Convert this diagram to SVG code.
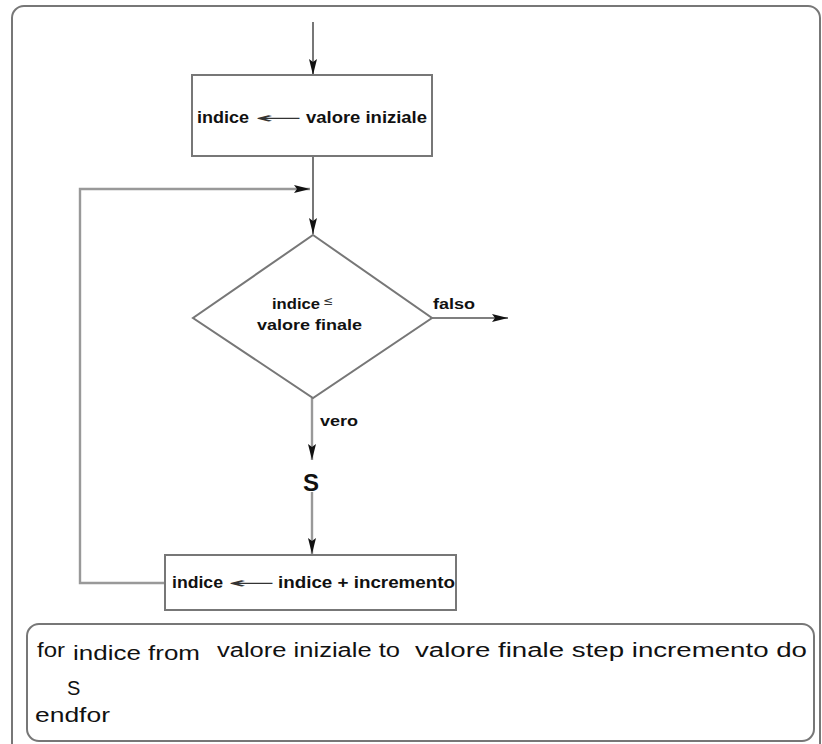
<svg xmlns="http://www.w3.org/2000/svg" width="822" height="744" viewBox="0 0 822 744">
<defs>
<marker id="ah" viewBox="0 0 16 8" refX="16" refY="4" markerWidth="16" markerHeight="8" markerUnits="userSpaceOnUse" orient="auto">
<path d="M0,0 L16,4 L0,8 L3,4 Z" fill="#111"/>
</marker>
</defs>
<style>
.frame{fill:#fff;stroke:#777;stroke-width:2}
.box{fill:#fff;stroke:#777;stroke-width:2}
.ln{fill:none;stroke:#555;stroke-width:1.6}
.gl{fill:none;stroke:#999;stroke-width:2.4}
.lb{font-family:"Liberation Sans",Arial,sans-serif;font-weight:bold;fill:#111}
.ar{font-family:"DejaVu Sans",sans-serif;fill:#333}
.code{font-family:"Liberation Sans",Arial,sans-serif;fill:#111}
</style>
<rect x="0" y="0" width="822" height="744" fill="#fff"/>
<rect class="frame" x="12" y="6" width="808" height="770" rx="12"/>
<g id="connectors">
<line class="ln" x1="313" y1="22" x2="313" y2="75" marker-end="url(#ah)"/>
<line class="ln" x1="313" y1="156" x2="313" y2="234" marker-end="url(#ah)"/>
<polyline class="gl" points="165,583 80,583 80,189 310,189" marker-end="url(#ah)"/>
<line class="ln" x1="432" y1="318" x2="508" y2="318" marker-end="url(#ah)"/>
<line class="gl" x1="312" y1="398" x2="312" y2="460" marker-end="url(#ah)"/>
<line class="gl" x1="312" y1="492" x2="312" y2="554" marker-end="url(#ah)"/>
</g>
<g id="init">
<rect class="box" x="192" y="75" width="240" height="81"/>
<text class="lb" x="197" y="123" font-size="16" textLength="52" lengthAdjust="spacingAndGlyphs">indice</text>
<text class="ar" x="254" y="123" font-size="15" textLength="48" lengthAdjust="spacingAndGlyphs">←</text>
<text class="lb" x="306" y="123" font-size="16" textLength="121" lengthAdjust="spacingAndGlyphs">valore iniziale</text>
</g>
<g id="cond">
<polygon class="box" points="313,235 432,318 313,398 193,318"/>
<text class="lb" x="272" y="309" font-size="15" textLength="48" lengthAdjust="spacingAndGlyphs">indice</text>
<text class="ar" x="323" y="305" font-size="12">≤</text>
<text class="lb" x="257" y="330" font-size="15" textLength="105" lengthAdjust="spacingAndGlyphs">valore finale</text>
<text class="lb" x="433" y="309" font-size="14" textLength="42" lengthAdjust="spacingAndGlyphs">falso</text>
<text class="lb" x="320" y="426" font-size="14" textLength="38" lengthAdjust="spacingAndGlyphs">vero</text>
</g>
<g id="body">
<text class="lb" x="311" y="491" font-size="24" text-anchor="middle">S</text>
</g>
<g id="incr">
<rect class="box" x="165" y="555" width="291" height="55"/>
<text class="lb" x="172" y="588" font-size="16" textLength="51" lengthAdjust="spacingAndGlyphs">indice</text>
<text class="ar" x="227" y="588" font-size="15" textLength="48" lengthAdjust="spacingAndGlyphs">←</text>
<text class="lb" x="278" y="588" font-size="16" textLength="177" lengthAdjust="spacingAndGlyphs">indice + incremento</text>
</g>
<g id="code">
<rect class="box" x="27" y="624" width="787" height="117" rx="12"/>
<text class="code" x="37" y="657" font-size="20" textLength="28" lengthAdjust="spacingAndGlyphs">for</text>
<text class="code" x="73" y="660" font-size="21" textLength="127" lengthAdjust="spacingAndGlyphs">indice from</text>
<text class="code" x="217" y="657" font-size="20" textLength="183" lengthAdjust="spacingAndGlyphs">valore iniziale to</text>
<text class="code" x="415" y="657" font-size="20" textLength="392" lengthAdjust="spacingAndGlyphs">valore finale step incremento do</text>
<text class="code" x="67" y="695" font-size="20">S</text>
<text class="code" x="35" y="722" font-size="20" textLength="75" lengthAdjust="spacingAndGlyphs">endfor</text>
</g>
</svg>
